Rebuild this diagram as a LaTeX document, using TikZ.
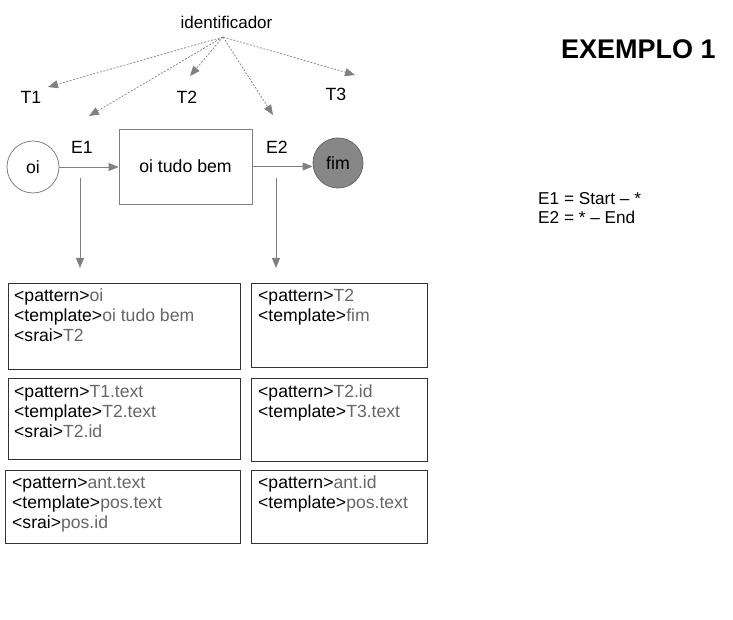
\documentclass[tikz,border=0pt]{standalone}
\usepackage{fontspec}
\setmainfont{Liberation Sans}
\usetikzlibrary{arrows.meta}
\definecolor{valgray}{HTML}{666666}
\definecolor{arrgray}{HTML}{808080}
\definecolor{boxborder}{HTML}{333333}
\definecolor{fimfill}{HTML}{878787}
\newcommand{\vl}[1]{\textcolor{valgray}{#1}}
\begin{document}
\begin{tikzpicture}[x=1pt,y=-1pt,
  lbl/.style={font=\fontsize{17}{20}\selectfont, inner sep=0pt},
  biglbl/.style={font=\fontsize{17.7}{20}\selectfont, inner sep=0pt},
  txtline/.style={anchor=base west, font=\fontsize{17.6}{20}\selectfont, inner sep=0pt},
  legline/.style={anchor=base west, font=\fontsize{17.2}{20}\selectfont, inner sep=0pt},
  arr/.style={draw=arrgray, line width=0.8pt, -{Triangle[length=10pt,width=8pt]}},
  dsh/.style={draw=arrgray, line width=0.7pt, dash pattern=on 2pt off 1.5pt, -{Triangle[length=10pt,width=8pt]}},
  rulebox/.style={draw=boxborder, line width=0.9pt, inner sep=0pt, anchor=north west}]
\useasboundingbox (0,0) rectangle (733,620);

% title and legend
\node[anchor=base west, inner sep=0pt, font=\fontsize{27}{32}\selectfont\bfseries] (title) at (561,59) {EXEMPLO 1};
\node[legline] (leg1) at (538,205) {E1 = Start – *};
\node[legline] (leg2) at (538,224) {E2 = * – End};

% identificador and targets
\node[lbl, anchor=base] (ident) at (226.5,29) {identificador};
\coordinate (src) at (223,37);
\coordinate (tT1) at (48,87);
\coordinate (tE1) at (89,116);
\coordinate (tT2) at (190,76);
\coordinate (tE2) at (273,115);
\coordinate (tT3) at (355,75);
\draw[dsh] (src) -- (tT1);
\draw[dsh] (src) -- (tE1);
\draw[dsh] (src) -- (tT2);
\draw[dsh] (src) -- (tE2);
\draw[dsh] (src) -- (tT3);

\node[biglbl, anchor=base] (T1) at (31,104) {T1};
\node[biglbl, anchor=base] (T2) at (187,104) {T2};
\node[biglbl, anchor=base] (T3) at (336,101) {T3};
\node[biglbl, anchor=base] (E1) at (82,154) {E1};
\node[biglbl, anchor=base] (E2) at (277,154) {E2};

% main chain
\node[circle, draw=arrgray, line width=0.8pt, minimum size=52pt, biglbl] (oi) at (33,167) {oi};
\node[draw=arrgray, line width=0.8pt, minimum width=133pt, minimum height=75pt, biglbl] (mid) at (185.5,166.5) {oi tudo bem};
\node[circle, draw=black!60, line width=0.8pt, fill=fimfill, minimum size=50pt, biglbl] (fim) at (338,163) {fim};
\draw[arr] (oi.east) -- (oi.east -| mid.west);
\draw[arr] (mid.east) -- (mid.east -| fim.west);

\coordinate (d1s) at (80,178);
\coordinate (d1e) at (80,268);
\coordinate (d2s) at (276,178);
\coordinate (d2e) at (276,268);
\draw[arr] (d1s) -- (d1e);
\draw[arr] (d2s) -- (d2e);

% boxes
\node[rulebox, minimum width=232pt, minimum height=86pt] (b1) at (8,283) {};
\node[rulebox, minimum width=176pt, minimum height=84pt] (b2) at (251,283) {};
\node[rulebox, minimum width=232pt, minimum height=81pt] (b3) at (8,378) {};
\node[rulebox, minimum width=176pt, minimum height=83pt] (b4) at (251,378) {};
\node[rulebox, minimum width=235pt, minimum height=73pt] (b5) at (5,470) {};
\node[rulebox, minimum width=176pt, minimum height=73pt] (b6) at (251,470) {};

\node[txtline] (b1a) at (14,301) {<pattern>\vl{oi}};
\node[txtline] (b1b) at (14,321) {<template>\vl{oi tudo bem}};
\node[txtline] (b1c) at (14,341) {<srai>\vl{T2}};
\node[txtline] (b2a) at (258,301) {<pattern>\vl{T2}};
\node[txtline] (b2b) at (258,321) {<template>\vl{fim}};
\node[txtline] (b3a) at (14,397) {<pattern>\vl{T1.text}};
\node[txtline] (b3b) at (14,417) {<template>\vl{T2.text}};
\node[txtline] (b3c) at (14,437) {<srai>\vl{T2.id}};
\node[txtline] (b4a) at (258,397) {<pattern>\vl{T2.id}};
\node[txtline] (b4b) at (258,417) {<template>\vl{T3.text}};
\node[txtline] (b5a) at (12,488) {<pattern>\vl{ant.text}};
\node[txtline] (b5b) at (12,508) {<template>\vl{pos.text}};
\node[txtline] (b5c) at (12,528) {<srai>\vl{pos.id}};
\node[txtline] (b6a) at (258,488) {<pattern>\vl{ant.id}};
\node[txtline] (b6b) at (258,508) {<template>\vl{pos.text}};
\end{tikzpicture}
\end{document}
